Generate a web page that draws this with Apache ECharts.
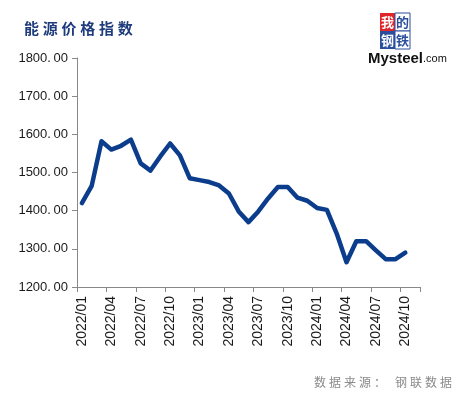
<!DOCTYPE html>
<html>
<head>
<meta charset="utf-8">
<script src="https://cdn.jsdelivr.net/npm/echarts@6/dist/echarts.min.js"></script>
<style>
  html, body { margin: 0; padding: 0; background: #fff; }
  #chart { width: 458px; height: 397px; }
</style>
</head>
<body>
<div id="chart"></div>
<script>
// months 2022/01 .. 2024/11
const months = [];
for (let y = 2022; y <= 2024; y++) {
  for (let m = 1; m <= 12; m++) {
    if (y === 2024 && m > 11) break;
    months.push(y + "/" + String(m).padStart(2, "0"));
  }
}

// energy price index (last month empty)
const indexValues = [
  1420, 1465, 1582, 1560, 1570, 1586, 1524, 1505, 1542, 1576, 1545, 1485,
  1480, 1475, 1466, 1445, 1398, 1370, 1398, 1432, 1462, 1462, 1434, 1426,
  1407, 1402, 1340, 1265, 1320, 1320, 1296, 1273, 1273, 1290
];

const yMin = 1200;
const yMax = 1800;
const yStep = 100;

const chart = echarts.init(document.getElementById("chart"));

const option = {
  animation: false,
  backgroundColor: "#fff",
  grid: { left: 77, right: 38, top: 58, bottom: 110 },
  xAxis: {
    type: "category",
    data: months,
    boundaryGap: true,
    axisLine: { lineStyle: { color: "#888", width: 1 } },
    axisTick: { show: true, interval: 2, length: 5, lineStyle: { color: "#888" } },
    axisLabel: {
      interval: 2,
      rotate: 90,
      color: "#1a1a1a",
      fontSize: 14,
      fontFamily: "Liberation Sans, Arial, sans-serif",
      margin: 9,
    },
  },
  yAxis: {
    type: "value",
    min: yMin,
    max: yMax,
    interval: yStep,
    axisLine: { show: true, lineStyle: { color: "#888", width: 1 } },
    axisTick: { show: true, length: 5, lineStyle: { color: "#888" } },
    splitLine: { show: false },
    axisLabel: {
      color: "#1a1a1a",
      fontSize: 13,
      fontFamily: "Liberation Sans, Arial, sans-serif",
      margin: 9,
      formatter: (v) => v.toFixed(2).replace(".", ".\u2009"),
    },
  },
  series: [
    {
      name: "能源价格指数",
      type: "line",
      data: indexValues,
      symbol: "none",
      smooth: false,
      lineStyle: { color: "#0b3d8c", width: 4.5, join: "round", cap: "round" },
    },
  ],
  graphic: [
    {
      type: "text",
      left: 24,
      top: 21,
      style: {
        text: "能\u2005源\u2005价\u2005格\u2005指\u2005数",
        fontSize: 15,
        fontWeight: "bold",
        fill: "#1f3c7c",
        fontFamily: "Noto Sans CJK SC, sans-serif",
      },
    },
    // Mysteel logo
    { type: "rect", shape: { x: 380, y: 13, width: 15, height: 18 }, style: { fill: "#e0262b" } },
    { type: "rect", shape: { x: 395, y: 13, width: 15, height: 18 }, style: { fill: "#fff", stroke: "#2a4f9c", lineWidth: 1 } },
    { type: "rect", shape: { x: 380, y: 31, width: 15, height: 18 }, style: { fill: "#2a4f9c" } },
    { type: "rect", shape: { x: 395, y: 31, width: 15, height: 18 }, style: { fill: "#fff", stroke: "#2a4f9c", lineWidth: 1 } },
    { type: "text", x: 387.5, y: 22, style: { text: "我", fontSize: 13, fontWeight: "bold", fill: "#fff", align: "center", verticalAlign: "middle", fontFamily: "Noto Sans CJK SC" } },
    { type: "text", x: 402.5, y: 22, style: { text: "的", fontSize: 13, fontWeight: "bold", fill: "#2a4f9c", align: "center", verticalAlign: "middle", fontFamily: "Noto Sans CJK SC" } },
    { type: "text", x: 387.5, y: 40, style: { text: "钢", fontSize: 13, fontWeight: "bold", fill: "#fff", align: "center", verticalAlign: "middle", fontFamily: "Noto Sans CJK SC" } },
    { type: "text", x: 402.5, y: 40, style: { text: "铁", fontSize: 13, fontWeight: "bold", fill: "#2a4f9c", align: "center", verticalAlign: "middle", fontFamily: "Noto Sans CJK SC" } },
    {
      type: "text",
      x: 368,
      y: 51,
      style: {
        text: "{a|Mysteel}{b|.com}",
        rich: {
          a: { fontSize: 15, fontWeight: "bold", fill: "#111", fontFamily: "Liberation Sans, Arial" },
          b: { fontSize: 11, fill: "#111", fontFamily: "Liberation Sans, Arial" },
        },
      },
    },
    {
      type: "text",
      right: 6,
      top: 376,
      style: {
        text: "数据来源：\u2005钢联数据".split("").join("\u2005"),
        fontSize: 12,
        fill: "#8a8a8a",
        fontFamily: "Noto Sans CJK SC, sans-serif",
      },
    },
  ],
};

chart.setOption(option);
</script>
</body>
</html>
